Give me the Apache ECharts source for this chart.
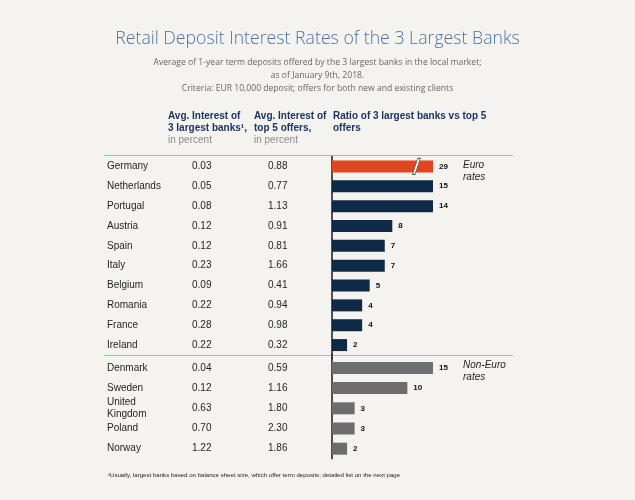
<!DOCTYPE html>
<html>
<head>
<meta charset="utf-8">
<script src="https://cdn.jsdelivr.net/npm/echarts@6/dist/echarts.min.js"></script>
<style>
html,body{margin:0;padding:0;background:#F4F3EF;}
#chart{width:635px;height:500px;}
</style>
</head>
<body>
<div id="chart"></div>
<script>
// ---- data ----
const euroCountries = ['Germany','Netherlands','Portugal','Austria','Spain','Italy','Belgium','Romania','France','Ireland'];
const euroTop3 = [0.03,0.05,0.08,0.12,0.12,0.23,0.09,0.22,0.28,0.22];
const euroTop5 = [0.88,0.77,1.13,0.91,0.81,1.66,0.41,0.94,0.98,0.32];
const euroRatio = [29,15,14,8,7,7,5,4,4,2];
const nonEuroCountries = ['Denmark','Sweden','United\nKingdom','Poland','Norway'];
const nonEuroTop3 = [0.04,0.12,0.63,0.70,1.22];
const nonEuroTop5 = [0.59,1.16,1.80,2.30,1.86];
const nonEuroRatio = [15,10,3,3,2];
const highlighted = 'Germany';
const breakAt = 11.2;
const axisMax = 13.4;

const BG = '#F4F3EF';
const NAVY = '#0E2A47';
const ORANGE = '#E0461F';
const GREY = '#6D6D6D';
const HEAD = '#1B3560';
const LINE = '#EC9C87';
const FONT = '"Liberation Sans", Arial, sans-serif';

const chart = echarts.init(document.getElementById('chart'), null, {renderer:'canvas'});

function nameAxis(gridIndex, cats){
  return {
    type:'category', gridIndex, data:cats, inverse:true, position:'left',
    axisLine:{show:true, lineStyle:{color:'#1a1a1a', width:1.5}},
    axisTick:{show:false},
    axisLabel:{align:'left', margin:225, color:'#1f1f1f', fontFamily:FONT, fontSize:10, lineHeight:12}
  };
}
function valueAxis(gridIndex, cats, a, b){
  return {
    type:'category', gridIndex, data:cats, inverse:true, position:'left',
    axisLine:{show:false}, axisTick:{show:false},
    axisLabel:{align:'left', margin:140, fontFamily:FONT, fontSize:10, color:'#1f1f1f',
      formatter:(v,i)=>'{a|'+a[i].toFixed(2)+'}{b|'+b[i].toFixed(2)+'}',
      rich:{a:{width:76, fontFamily:FONT, fontSize:10, color:'#1f1f1f'}, b:{fontFamily:FONT, fontSize:10, color:'#1f1f1f'}}
    }
  };
}
const barLabel = {show:true, position:'right', distance:6, fontFamily:FONT, fontSize:8, fontWeight:'bold', color:'#111', formatter:'{c}'};

const option = {
  backgroundColor: BG,
  animation:false,
  title:{
    text:'Retail Deposit Interest Rates of the 3 Largest Banks',
    subtext:'Average of 1-year term deposits offered by the 3 largest banks in the local market;\nas of January 9th, 2018.\nCriteria: EUR 10,000 deposit; offers for both new and existing clients',
    left:'center', top:25, itemGap:8,
    textStyle:{fontFamily:'"Open Sans", sans-serif', fontWeight:300, fontSize:17.7, color:'#4A75A6'},
    subtextStyle:{fontFamily:'"Open Sans", sans-serif', fontSize:8.6, lineHeight:13, color:'#666', align:'center'}
  },
  grid:[
    {left:332, top:156.5, width:101, height:198.5},
    {left:332, top:357.8, width:101, height:101}
  ],
  xAxis:[
    {type:'value', gridIndex:0, min:0, max:axisMax, show:false},
    {type:'value', gridIndex:1, min:0, max:axisMax, show:false}
  ],
  yAxis:[
    nameAxis(0, euroCountries),
    valueAxis(0, euroCountries, euroTop3, euroTop5),
    nameAxis(1, nonEuroCountries),
    valueAxis(1, nonEuroCountries, nonEuroTop3, nonEuroTop5)
  ],
  series:[
    {type:'bar', xAxisIndex:0, yAxisIndex:0, data:euroRatio, barWidth:12, clip:true,
     itemStyle:{color:p=>euroCountries[p.dataIndex]===highlighted?ORANGE:NAVY},
     label:barLabel,
     markPoint:{silent:true, symbol:'path://M6,0 L9,0 L3,16 L0,16 Z', symbolSize:[8,16],
       itemStyle:{color:'#f4f4f4', borderColor:'#555', borderWidth:0.8},
       label:{show:false},
       data:[{coord:[breakAt, highlighted]}]}
    },
    {type:'bar', xAxisIndex:1, yAxisIndex:2, data:nonEuroRatio, barWidth:12, clip:true,
     itemStyle:{color:GREY}, label:barLabel}
  ],
  graphic:[
    {type:'line', shape:{x1:104,y1:155.5,x2:513,y2:155.5}, style:{stroke:LINE, lineWidth:1}, z:1},
    {type:'line', shape:{x1:104,y1:355.5,x2:513,y2:355.5}, style:{stroke:LINE, lineWidth:1}, z:1},
    {type:'line', shape:{x1:332,y1:354,x2:332,y2:359}, style:{stroke:'#1a1a1a', lineWidth:1.5}, z:5},
    {type:'text', x:168, y:110, style:{text:'Avg. Interest of\n3 largest banks¹,', font:'bold 10px '+FONT, fill:HEAD, lineHeight:12}},
    {type:'text', x:168, y:134, style:{text:'in percent', font:'10px '+FONT, fill:'#8a8a8a', lineHeight:12}},
    {type:'text', x:254, y:110, style:{text:'Avg. Interest of\ntop 5 offers,', font:'bold 10px '+FONT, fill:HEAD, lineHeight:12}},
    {type:'text', x:254, y:134, style:{text:'in percent', font:'10px '+FONT, fill:'#8a8a8a', lineHeight:12}},
    {type:'text', x:333, y:110, style:{text:'Ratio of 3 largest banks vs top 5\noffers', font:'bold 10px '+FONT, fill:HEAD, lineHeight:12}},
    {type:'text', x:463, y:159, style:{text:'Euro\nrates', font:'italic 10px '+FONT, fill:'#1f1f1f', lineHeight:12}},
    {type:'text', x:463, y:359, style:{text:'Non-Euro\nrates', font:'italic 10px '+FONT, fill:'#1f1f1f', lineHeight:12}},
    {type:'text', x:108, y:472, style:{text:'¹Usually, largest banks based on balance sheet size, which offer term deposits; detailed list on the next page', font:'6.1px '+FONT, fill:'#222'}}
  ]
};
chart.setOption(option);
</script>
</body>
</html>
